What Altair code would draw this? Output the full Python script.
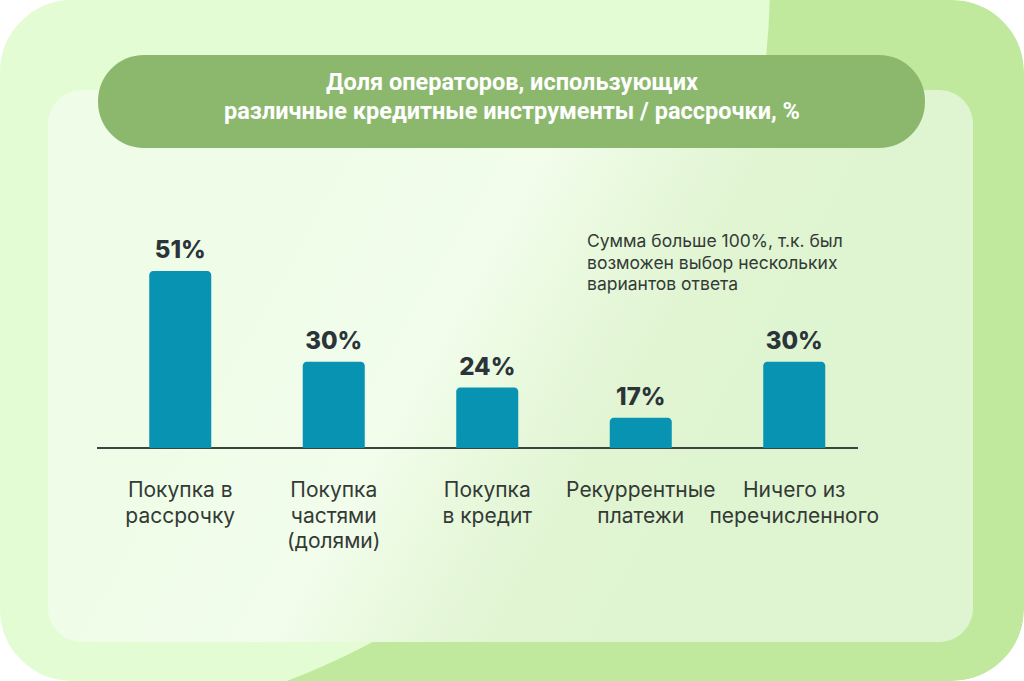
import math
import altair as alt
import pandas as pd

# ---- data ----
categories = ["Покупка в рассрочку", "Покупка частями (долями)", "Покупка в кредит",
              "Рекуррентные платежи", "Ничего из перечисленного"]
label_text = ["Покупка в\nрассрочку", "Покупка\nчастями\n(долями)", "Покупка\nв кредит",
              "Рекуррентные\nплатежи", "Ничего из\nперечисленного"]
values = [51, 30, 24, 17, 30]
value_labels = ["51%", "30%", "24%", "17%", "30%"]
title_text = "Доля операторов, использующих\nразличные кредитные инструменты / рассрочки, %"
note_text = "Сумма больше 100%, т.к. был\nвозможен выбор нескольких\nвариантов ответа"

W, H = 1024, 681
BASE = 10  # axis start of the original drawing

df = pd.DataFrame({"cat": categories, "v": values, "lbl": value_labels, "name": label_text})
one = pd.DataFrame({"k": [0]})

DARK_BG = "#c1e99d"
LIGHT_BG = "#e3fcd3"
PILL = "#8cb86e"
BAR = "#0893b2"

panel_grad = alt.LinearGradient(
    gradient="linear", x1=0.19, y1=0.43, x2=0.76, y2=0.62,
    stops=[alt.GradientStop(offset=0, color="#effde8"),
           alt.GradientStop(offset=0.38, color="#f2fdec"),
           alt.GradientStop(offset=0.55, color="#e9f9de"),
           alt.GradientStop(offset=0.75, color="#e1f5d3"),
           alt.GradientStop(offset=1, color="#dff4d0")])

xs = alt.X("cat:N", sort=categories, axis=None,
           scale=alt.Scale(range=[103.5, 871], paddingInner=0.596, paddingOuter=0.298))
ys = alt.Y("v:Q", axis=None,
           scale=alt.Scale(domain=[BASE, 51], range=[448, 271], nice=False, zero=False))

base_rect = alt.Chart(one).mark_rect(color=DARK_BG, cornerRadius=72).encode(
    x=alt.value(0), x2=alt.value(W), y=alt.value(0), y2=alt.value(H))
light_circle = alt.Chart(one).mark_arc(color=LIGHT_BG, radius=750, theta=0, theta2=2 * math.pi).encode(
    x=alt.value(20), y=alt.value(-20))
mask = alt.Chart(one).mark_rect(fillOpacity=0, stroke="white", strokeWidth=400,
                                cornerRadius=272).encode(
    x=alt.value(-200), x2=alt.value(W + 200), y=alt.value(-200), y2=alt.value(H + 200))
panel = alt.Chart(one).mark_rect(color=panel_grad, cornerRadius=34).encode(
    x=alt.value(48), x2=alt.value(973), y=alt.value(90), y2=alt.value(642))
pill = alt.Chart(one).mark_rect(color=PILL, cornerRadius=46).encode(
    x=alt.value(98), x2=alt.value(925), y=alt.value(55), y2=alt.value(148))
title = alt.Chart(one).mark_text(text=title_text, lineBreak="\n", lineHeight=29, font="Roboto",
                                 fontWeight="bold", fontSize=23.5, color="white",
                                 align="center", baseline="middle").encode(
    x=alt.value(512), y=alt.value(83))
note = alt.Chart(one).mark_text(text=note_text, lineBreak="\n", lineHeight=21.5, font="Inter",
                                fontSize=17.5, color="#333a36", align="left", baseline="top").encode(
    x=alt.value(587), y=alt.value(233))
baseline = alt.Chart(one).mark_rule(color="#3d4440", strokeWidth=2).encode(
    x=alt.value(97), x2=alt.value(858), y=alt.value(448))

bars = alt.Chart(df).mark_bar(color=BAR, cornerRadiusTopLeft=4, cornerRadiusTopRight=4).encode(
    x=xs, y=ys, y2=alt.datum(BASE))
vals = alt.Chart(df).mark_text(font="Inter", fontWeight=800, fontSize=24, color="#2b3438",
                               baseline="alphabetic", dy=-13).encode(
    x=xs, y=ys, text="lbl:N")
names = alt.Chart(df).mark_text(font="Inter", fontSize=21, color="#333a36", lineBreak="\n",
                                lineHeight=25.5, baseline="top", align="center").encode(
    x=xs, y=alt.value(480), text="name:N")

chart = alt.layer(base_rect, light_circle, mask, panel, pill, title, note, baseline,
                  bars, vals, names).properties(
    width=W, height=H, autosize=alt.AutoSizeParams(type="none"), padding=0,
    background="white"
).configure_view(stroke=None)

chart.save("out.html", embed_options={"renderer": "svg", "actions": False})
